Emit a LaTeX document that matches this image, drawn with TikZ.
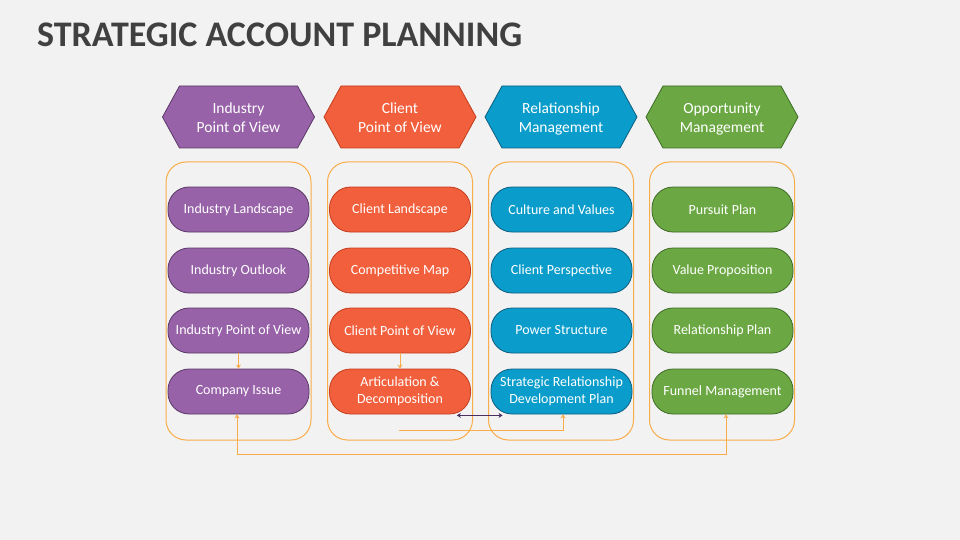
\documentclass[tikz,border=0pt]{standalone}
\usepackage{fontspec}
\setmainfont{Carlito}
\usetikzlibrary{arrows.meta}
\definecolor{bg}{HTML}{F2F2F2}
\definecolor{titlec}{HTML}{404040}
\definecolor{cpur}{HTML}{9862A8}
\definecolor{bpur}{HTML}{5A3868}
\definecolor{cred}{HTML}{F15F3C}
\definecolor{bred}{HTML}{C63D1C}
\definecolor{cblu}{HTML}{0A9DCB}
\definecolor{bblu}{HTML}{0D5E80}
\definecolor{cgrn}{HTML}{6BA843}
\definecolor{bgrn}{HTML}{3E6B26}
\definecolor{corg}{HTML}{F9AD4A}
\definecolor{darkarr}{HTML}{4A3060}
\tikzset{
  pill/.style={rounded corners=21pt, minimum width=141pt, minimum height=45pt, inner sep=0pt,
    align=center, text=white, font=\fontsize{14}{17}\selectfont, line width=0.8pt},
  hexlabel/.style={align=center, text=white, font=\fontsize{15.5}{19}\selectfont, inner sep=0pt},
  container/.style={draw=corg, line width=1pt, rounded corners=20pt},
  oline/.style={draw=corg, line width=1pt},
  otip/.style={-{Stealth[length=4pt,width=5pt]}},
  dline/.style={draw=darkarr, line width=1pt, {Stealth[length=4pt,width=5pt]}-{Stealth[length=4pt,width=5pt]}}
}
\begin{document}
\begin{tikzpicture}[x=1pt,y=-1pt]
\fill[bg] (0,0) rectangle (960,540);
\useasboundingbox (0,0) rectangle (960,540);
\node[anchor=west, inner sep=0pt, text=titlec, font=\bfseries\fontsize{36}{40}\selectfont] (title) at (37,34.5) {STRATEGIC ACCOUNT PLANNING};

% columns
\foreach \cx/\fc/\bc/\txt/\nm/\dy in {238.5/cpur/bpur/{Industry\\Point of View}/h1/0,
                                 400/cred/bred/{Client\\Point of View}/h2/0,
                                 561/cblu/bblu/{Relationship\\Management}/h3/1,
                                 722/cgrn/bgrn/{Opportunity\\Management}/h4/2}{
  \draw[fill=\fc, draw=\bc, line width=0.8pt]
    (\cx-59,86) -- (\cx+59,86) -- (\cx+76,117) -- (\cx+59,148) -- (\cx-59,148) -- (\cx-76,117) -- cycle;
  \node[hexlabel] (\nm) at (\cx,117.5+\dy) {\txt};
  \draw[container] (\cx-72.5,162) rectangle (\cx+72.5,440);
}

% pills column 1
\node[pill, fill=cpur, draw=bpur] (p11) at (238.5,209.5) {Industry Landscape};
\node[pill, fill=cpur, draw=bpur] (p12) at (238.5,270.5) {Industry Outlook};
\node[pill, fill=cpur, draw=bpur] (p13) at (238.5,330.5) {Industry Point of View};
\node[pill, fill=cpur, draw=bpur] (p14) at (238.5,391.5) {Company Issue};
% column 2
\node[pill, fill=cred, draw=bred] (p21) at (400,209.5) {Client Landscape};
\node[pill, fill=cred, draw=bred] (p22) at (400,270.5) {Competitive Map};
\node[pill, fill=cred, draw=bred] (p23) at (400,330.5) {Client Point of View};
\node[pill, fill=cred, draw=bred] (p24) at (400,391.5) {Articulation \&\\Decomposition};
% column 3
\node[pill, fill=cblu, draw=bblu] (p31) at (561.5,209.5) {Culture and Values};
\node[pill, fill=cblu, draw=bblu] (p32) at (561.5,270.5) {Client Perspective};
\node[pill, fill=cblu, draw=bblu] (p33) at (561.5,330.5) {Power Structure};
\node[pill, fill=cblu, draw=bblu] (p34) at (561.5,391.5) {Strategic Relationship\\Development Plan};
% column 4
\node[pill, fill=cgrn, draw=bgrn] (p41) at (722.5,209.5) {Pursuit Plan};
\node[pill, fill=cgrn, draw=bgrn] (p42) at (722.5,270.5) {Value Proposition};
\node[pill, fill=cgrn, draw=bgrn] (p43) at (722.5,330.5) {Relationship Plan};
\node[pill, fill=cgrn, draw=bgrn] (p44) at (722.5,391.5) {Funnel Management};

% connectors
\draw[oline, otip] (p13) -- (p14);
\draw[oline, otip] (p23) -- (p24);
\draw[dline] ([shift={(-14,1)}]p24.south east) -- ([shift={(12,1)}]p34.south west);
\coordinate (s1) at (399,430);
\draw[oline, otip] (s1) -| ([xshift=1.5pt]p34.south);
\draw[oline, {Stealth[length=4pt,width=5pt]}-{Stealth[length=4pt,width=5pt]}]
  ([xshift=3.5pt]p44.south) -- ++(0,40) -| ([xshift=-1.5pt]p14.south);
\end{tikzpicture}
\end{document}
